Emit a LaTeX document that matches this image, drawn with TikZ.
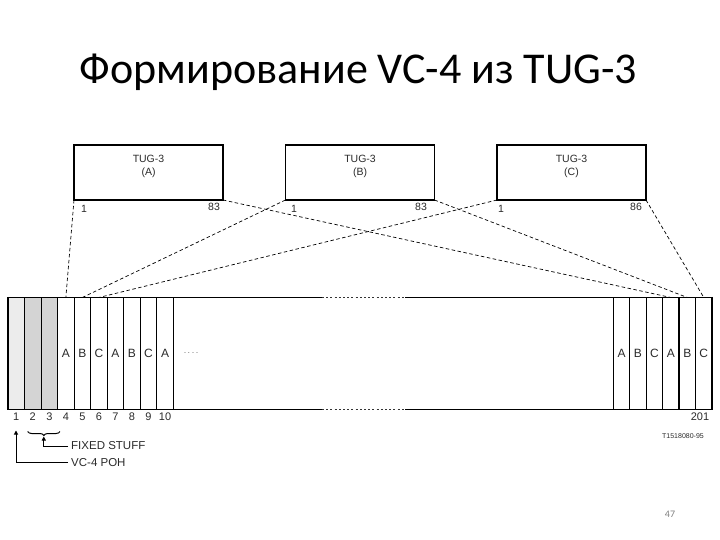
\documentclass[tikz,border=0pt]{standalone}
\usepackage{fontspec}
\setmainfont{Liberation Sans}
\newfontfamily\titlefont{Carlito}
\usetikzlibrary{decorations.pathreplacing,arrows.meta,calc}
\definecolor{txt}{HTML}{2A2A2A}
\definecolor{poh}{HTML}{ECECEC}
\definecolor{fix}{HTML}{D4D4D4}
\tikzset{
  tugbox/.style={draw, line width=1.6pt, minimum width=149pt, minimum height=55pt, inner sep=0pt, outer sep=0pt},
  small/.style={font=\fontsize{10.5}{12.5}\selectfont, text=txt, inner sep=0pt},
  letter/.style={font=\fontsize{12}{14}\selectfont, text=txt, inner sep=0pt},
  num/.style={font=\fontsize{11}{13}\selectfont, text=txt, inner sep=0pt},
  note/.style={font=\fontsize{11.5}{13}\selectfont, text=txt, inner sep=0pt, anchor=west},
  conn/.style={dashed, dash pattern=on 3.5pt off 2.5pt, line width=0.7pt},
  thickline/.style={line width=1.4pt},
  colnode/.style={minimum width=16.5pt, minimum height=112pt, inner sep=0pt, outer sep=0pt}
}
\begin{document}
\begin{tikzpicture}[x=1pt,y=-1pt]
\useasboundingbox (0,0) rectangle (720,540);
% title
\node[font=\titlefont\fontsize{44}{52}\selectfont, anchor=base] (title) at (358.5,84) {Формирование VC-4 из TUG-3};
% TUG-3 boxes
\node[tugbox] (A) at (148.5,172.5) {};
\node[tugbox] (B) at (360,172.5) {};
\node[tugbox] (C) at (571.5,172.5) {};
\node[small, align=center, anchor=north] (At) at (148.5,155) {TUG-3\\(A)};
\node[small, align=center, anchor=north] (Bt) at (360,155) {TUG-3\\(B)};
\node[small, align=center, anchor=north] (Ct) at (571.5,155) {TUG-3\\(C)};
\node[small] (A1) at (84,208.5) {1};
\node[small] (A83) at (214,207) {83};
\node[small] (B1) at (294,208.5) {1};
\node[small] (B83) at (421,207) {83};
\node[small] (C1) at (501,208.5) {1};
\node[small] (C86) at (636,207) {86};
% columns (left)
\fill[poh] (8,297.5) rectangle (24.5,409.5);
\fill[fix] (24.5,297.5) rectangle (57.6,409.5);
\foreach \i/\l in {1/,2/,3/,4/A,5/B,6/C,7/A,8/B,9/C,10/A}{
  \node[colnode, letter] (c\i) at ({8+16.53*(\i-0.5)},353.5) {\l};
  \node[num, anchor=north] (n\i) at ({8+16.53*(\i-0.5)},412.5) {\i};
}
% columns (right)
\foreach \i/\l in {1/A,2/B,3/C,4/A,5/B,6/C}{
  \node[colnode, letter] (r\i) at ({613.3+16.45*(\i-0.5)},353.5) {\l};
}
% frame
\draw[thickline] (8,297.5) -- (322,297.5);
\draw[thickline] (405,297.5) -- (712,297.5);
\draw[thickline] (8,409.5) -- (322,409.5);
\draw[thickline] (405,409.5) -- (712,409.5);
\draw[line width=1.4pt, dash pattern=on 2pt off 2.2pt, black!80] (322,297.5) -- (405,297.5);
\draw[line width=1.4pt, dash pattern=on 2pt off 2.2pt, black!80] (322,409.5) -- (405,409.5);
\draw[thickline] (8,296.8) -- (8,410.2);
\draw[thickline] (712,296.8) -- (712,410.2);
% separators left
\foreach \k/\w in {1/1.3,2/0.8,3/1.3,4/0.8,5/1.3,6/1.2,7/0.8,8/1.2,9/0.8,10/0.8}{
  \draw[line width=\w pt] ({8+16.53*\k},297.5) -- ({8+16.53*\k},409.5);
}
% separators right
\foreach \k/\w in {0/1.3,1/1.3,2/1.3,3/1.3,4/1.3,5/0.8}{
  \draw[line width=\w pt] ({613.3+16.45*\k},297.5) -- ({613.3+16.45*\k},409.5);
}
\node[font=\fontsize{9}{10}\selectfont, text=black!55, inner sep=0pt] (dots) at (191,353) {.\,.\,.\,.};
\node[num] (n201) at (700,416.5) {201};
\node[font=\fontsize{7}{8}\selectfont, text=txt, inner sep=0pt] (fig) at (683,436) {T1518080-95};
% connectors
\draw[conn] (A.south west) -- (c4.north);
\draw[conn] (B.south west) -- (c5.north);
\draw[conn] (C.south west) -- (c6.north);
\draw[conn] (A.south east) -- (r4.north);
\draw[conn] (B.south east) -- (r5.north);
\draw[conn] (C.south east) -- (r6.north);
% bottom annotation
\node[note] (fs) at (71,446) {FIXED STUFF};
\node[note] (vc) at (71,462.5) {VC-4 POH};
\coordinate (bl) at (27.7,431.5);
\coordinate (br) at (60,431.5);
\draw[line width=1pt, decorate, decoration={brace, mirror, amplitude=4pt}] (bl) -- (br);
\coordinate (btip) at (43.8,436.5);
\coordinate (ptip) at (16,430.5);
\draw[line width=1pt, -{Triangle[length=4pt,width=4pt]}] (fs.west) ++(-3,0) -| (btip);
\draw[line width=1pt, -{Triangle[length=4pt,width=4pt]}] (vc.west) ++(-3,0) -| (ptip);
% page number
\node[font=\titlefont\fontsize{10}{12}\selectfont, text=black!50] (page) at (670,514) {47};
\end{tikzpicture}
\end{document}
